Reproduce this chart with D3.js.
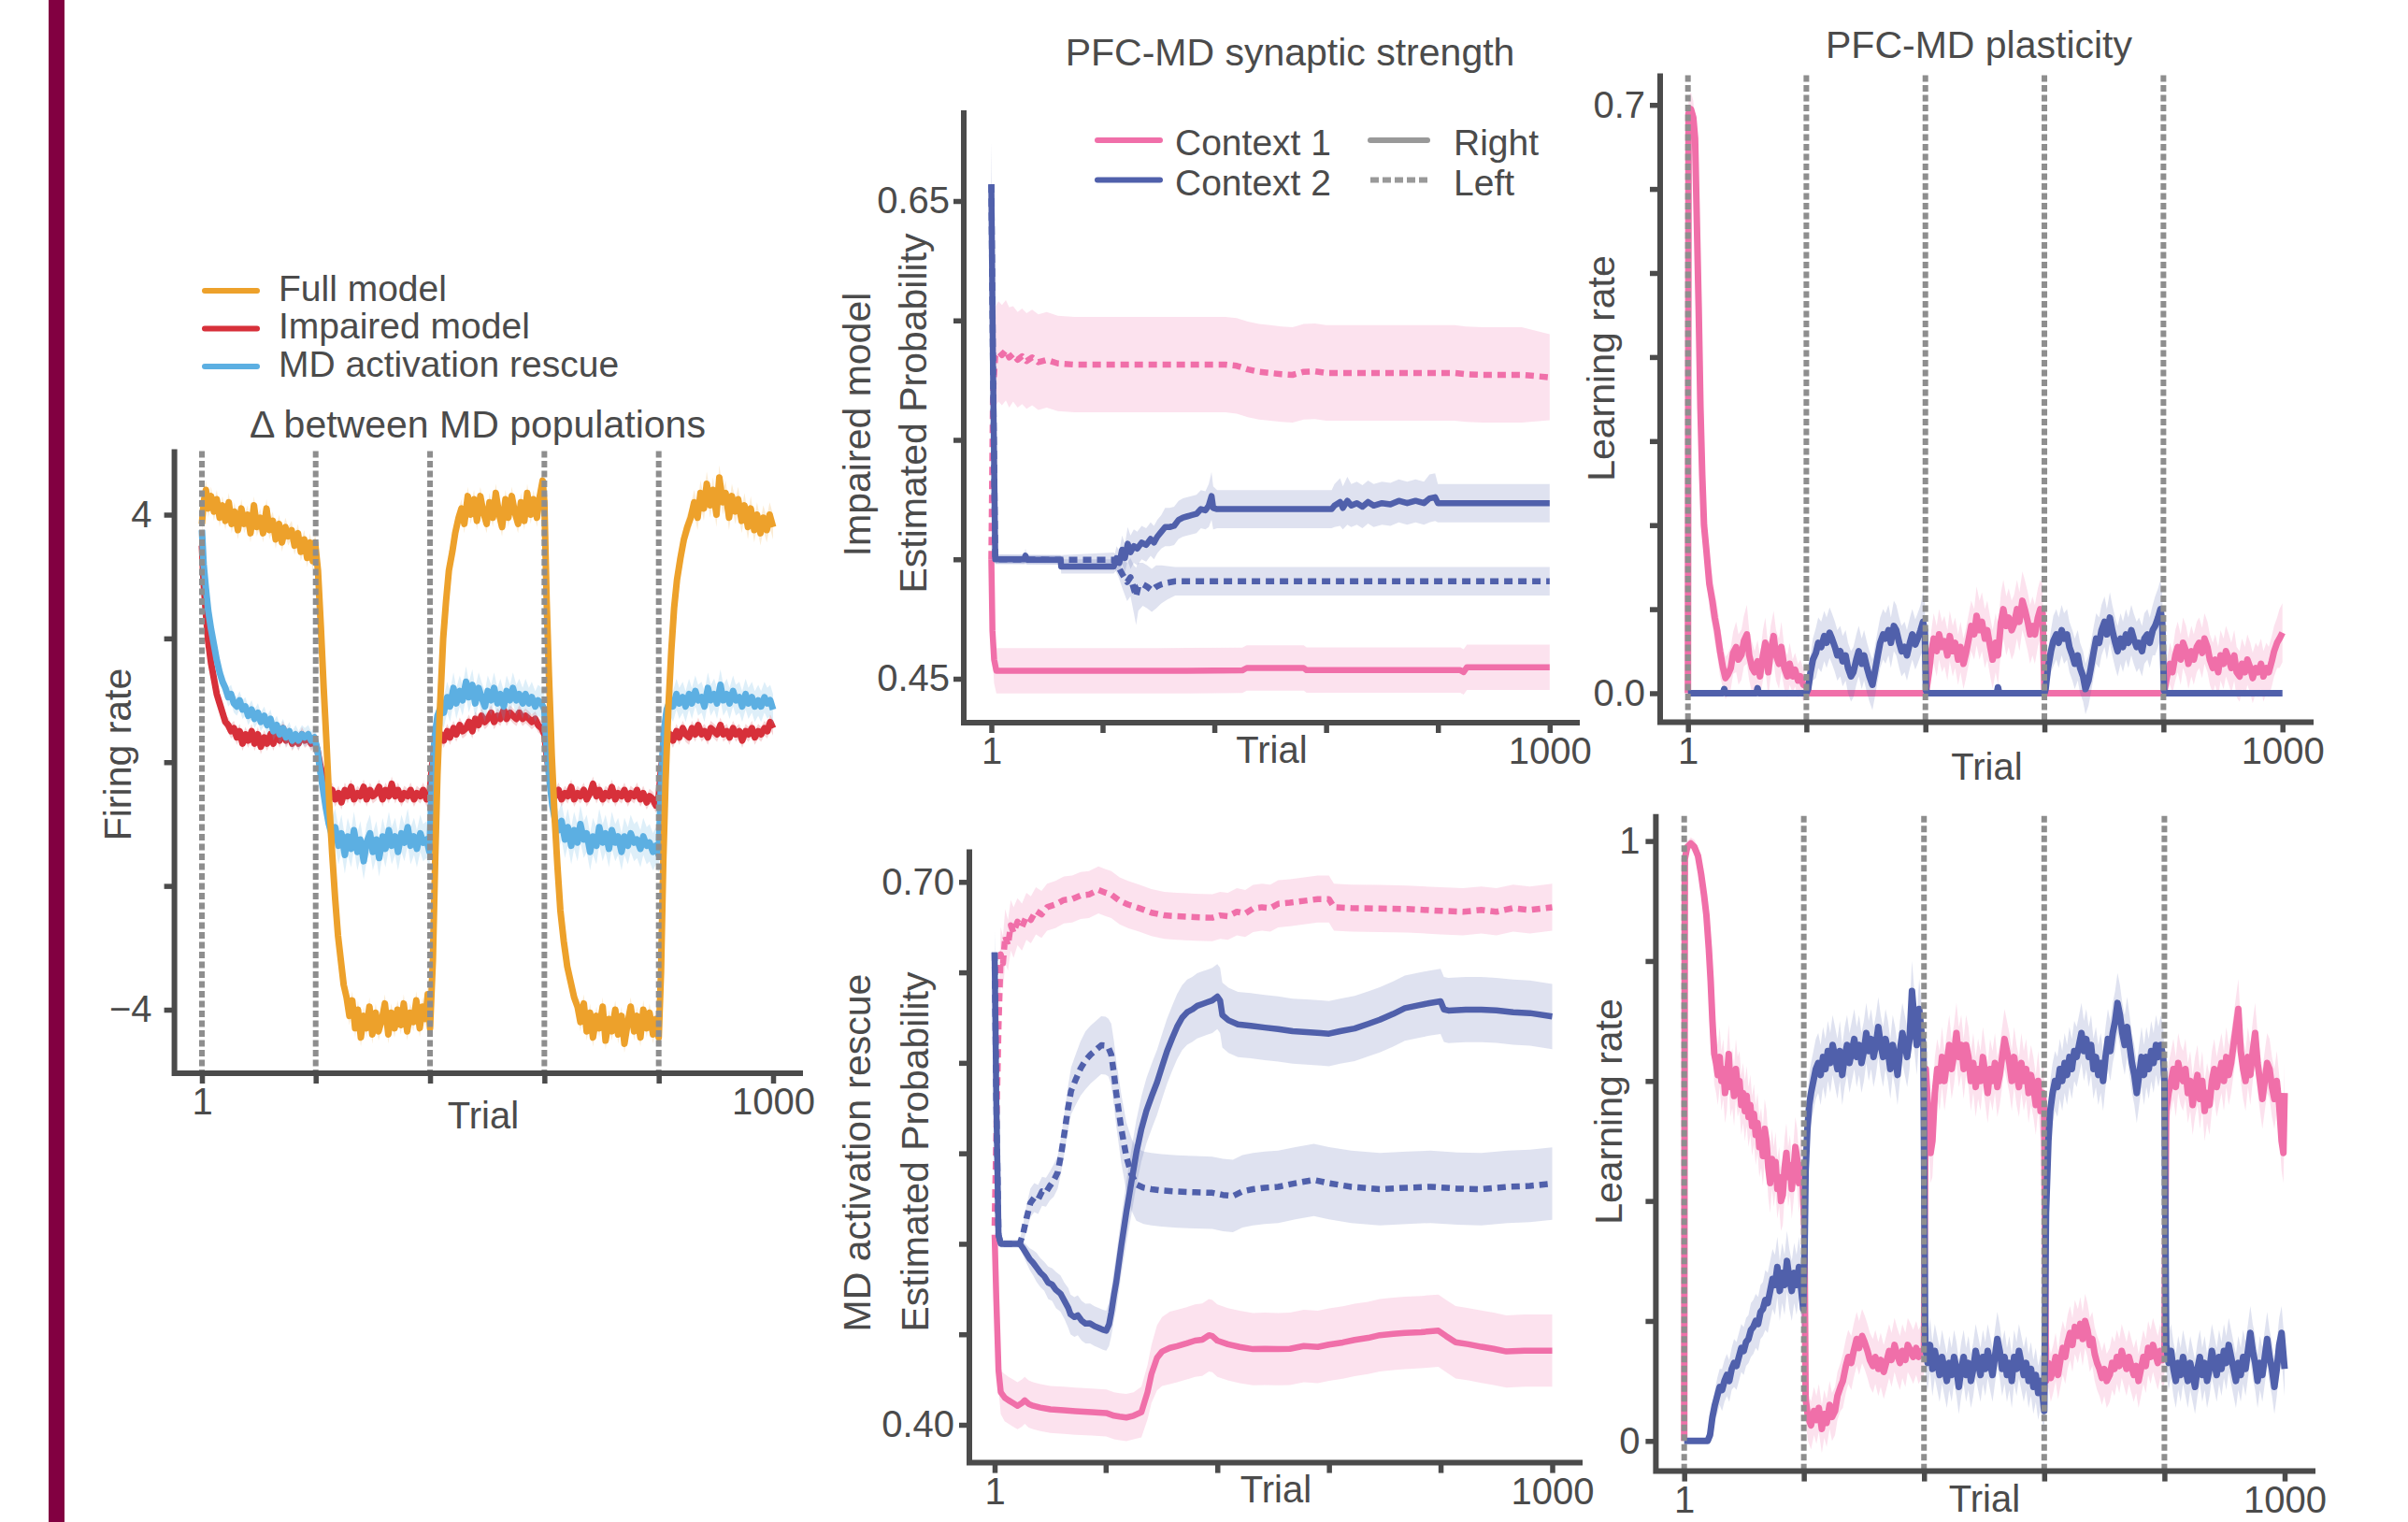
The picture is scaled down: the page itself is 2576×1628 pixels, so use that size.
<!DOCTYPE html>
<html>
<head>
<meta charset="utf-8">
<script src="https://cdn.jsdelivr.net/npm/d3@7"></script>
<style>
  html, body { margin: 0; padding: 0; background: #fff; }
  svg { display: block; font-family: "Liberation Sans", Arial, Helvetica, sans-serif; }
</style>
</head>
<body>
<script>
// ---- data: [trial, mean, half-width of shaded band] ----
const trialTicks = [1, 200, 400, 600, 800, 1000]
const switchTrials = [1, 200, 400, 600, 800]

// panel A: delta between MD populations (firing rate)
const fullModel = [[1,3.85,.15],[4,4.2,.15],[8,4.4,.15],[12,4.1,.15],[17,4.3,.15],[22,4.05,.15],[27,4.25,.15],[32,3.95,.15],[37,4.15,.15],[42,3.9,.15],[48,4.2,.15],[53,3.85,.15],[58,4.05,.15],[64,3.75,.15],[70,4.1,.15],[75,3.85,.15],[81,4.0,.15],[86,3.7,.15],[92,4.15,.15],[97,3.8,.15],[103,3.95,.15],[108,3.7,.15],[114,4.1,.15],[119,3.75,.15],[125,3.9,.15],[130,3.6,.15],[136,3.85,.15],[141,3.55,.15],[147,3.8,.15],[152,3.65,.15],[158,3.75,.15],[163,3.5,.15],[169,3.7,.15],[174,3.4,.15],[180,3.6,.15],[185,3.3,.15],[190,3.55,.15],[195,3.25,.15],[199,3.55,.15],
  [204,3.1,.2],[209,2.2,.2],[214,1.2,.2],[219,0.3,.2],[224,-0.7,.2],[229,-1.5,.2],[234,-2.2,.2],[239,-2.8,.2],[244,-3.2,.2],[249,-3.6,.2],[254,-3.8,.2],[259,-4.1,.15],[264,-3.85,.15],[269,-4.3,.15],[274,-4.0,.15],[279,-4.45,.15],[284,-4.1,.15],[289,-4.3,.15],[294,-3.95,.15],[299,-4.4,.15],[305,-4.05,.15],[310,-4.35,.15],[316,-4.15,.15],[321,-3.9,.15],[327,-4.4,.15],[332,-4.05,.15],[338,-4.3,.15],[343,-4.0,.15],[349,-4.25,.15],[354,-3.9,.15],[360,-4.35,.15],[365,-4.05,.15],[371,-4.2,.15],[376,-3.85,.15],[382,-4.3,.15],[387,-3.95,.15],[392,-4.15,.15],[396,-3.75,.15],[400,-4.3,.15],
  [405,-3.2,.2],[409,-1.6,.2],[413,-0.2,.2],[418,1.0,.2],[423,2.0,.2],[428,2.6,.2],[433,3.1,.2],[439,3.4,.2],[444,3.7,.2],[450,3.95,.15],[455,4.1,.15],[460,3.85,.15],[466,4.3,.15],[471,4.0,.15],[477,4.25,.15],[482,3.9,.15],[488,4.3,.15],[493,4.05,.15],[499,3.85,.15],[504,4.2,.15],[510,3.95,.15],[515,4.35,.15],[521,4.0,.15],[526,3.8,.15],[532,4.25,.15],[537,3.95,.15],[543,4.3,.15],[548,4.05,.15],[554,3.85,.15],[559,4.2,.15],[565,3.9,.15],[570,4.35,.15],[576,4.0,.15],[581,4.25,.15],[587,3.95,.15],[592,4.3,.15],[597,4.55,.15],[600,4.2,.15],
  [604,2.6,.2],[608,1.4,.2],[613,0.1,.2],[618,-0.9,.2],[623,-1.7,.2],[628,-2.4,.2],[634,-2.9,.2],[640,-3.3,.2],[646,-3.55,.2],[652,-3.8,.15],[658,-3.95,.15],[663,-4.2,.15],[669,-3.9,.15],[674,-4.35,.15],[680,-4.05,.15],[685,-4.45,.15],[691,-4.1,.15],[696,-4.3,.15],[702,-3.95,.15],[707,-4.5,.15],[713,-4.15,.15],[718,-4.35,.15],[724,-4.0,.15],[729,-4.4,.15],[735,-4.1,.15],[740,-4.55,.15],[746,-4.2,.15],[751,-3.95,.15],[757,-4.35,.15],[762,-4.1,.15],[768,-4.45,.15],[773,-4.0,.15],[779,-4.3,.15],[784,-4.05,.15],[790,-4.4,.15],[795,-4.15,.15],[800,-4.45,.15],
  [804,-3.4,.2],[808,-1.6,.2],[812,-0.3,.2],[817,0.9,.2],[822,1.8,.2],[827,2.5,.2],[832,2.95,.2],[838,3.3,.2],[844,3.6,.2],[850,3.8,.2],[856,3.95,.2],[862,4.2,.2],[868,3.95,.2],[873,4.35,.2],[879,4.1,.2],[884,4.5,.2],[890,4.15,.2],[895,4.4,.2],[901,4.0,.2],[906,4.6,.2],[912,4.2,.2],[917,4.35,.2],[923,3.95,.2],[928,4.3,.2],[934,4.05,.2],[939,4.25,.2],[945,3.9,.2],[950,4.15,.2],[956,3.8,.2],[961,4.1,.2],[967,3.75,.2],[972,4.0,.2],[978,3.7,.2],[983,3.95,.2],[989,3.75,.2],[994,4.0,.2],[1000,3.8,.2]]

const impairedModel = [[1,3.5,.1],[4,2.9,.1],[8,2.4,.1],[12,1.95,.1],[17,1.6,.1],[22,1.35,.1],[27,1.1,.1],[32,0.95,.1],[37,0.8,.1],[42,0.65,.1],[47,0.6,.12],[52,0.5,.12],[57,0.55,.12],[62,0.4,.12],[67,0.5,.12],[72,0.3,.12],[77,0.45,.12],[82,0.35,.12],[88,0.5,.12],[93,0.3,.12],[99,0.45,.12],[104,0.25,.12],[110,0.4,.12],[115,0.3,.12],[121,0.45,.12],[126,0.3,.12],[132,0.5,.12],[137,0.35,.12],[143,0.55,.12],[148,0.35,.12],[154,0.45,.12],[159,0.3,.12],[165,0.4,.12],[170,0.3,.12],[176,0.45,.12],[181,0.35,.12],[187,0.4,.12],[192,0.3,.12],[198,0.35,.12],
  [203,0.2,.12],[208,-0.05,.12],[213,-0.25,.12],[218,-0.4,.12],[223,-0.55,.12],[229,-0.45,.12],[234,-0.6,.12],[240,-0.5,.12],[245,-0.65,.12],[251,-0.45,.12],[256,-0.55,.12],[262,-0.4,.12],[267,-0.6,.12],[273,-0.5,.12],[278,-0.55,.12],[284,-0.4,.12],[289,-0.6,.12],[295,-0.45,.12],[300,-0.55,.12],[306,-0.5,.12],[311,-0.4,.12],[317,-0.6,.12],[322,-0.45,.12],[328,-0.55,.12],[333,-0.35,.12],[339,-0.55,.12],[344,-0.45,.12],[350,-0.6,.12],[355,-0.5,.12],[361,-0.55,.12],[366,-0.45,.12],[372,-0.6,.12],[377,-0.5,.12],[383,-0.55,.12],[388,-0.45,.12],[394,-0.6,.12],[399,-0.55,.12],
  [403,-0.1,.12],[408,0.25,.12],[413,0.35,.12],[419,0.45,.12],[424,0.35,.12],[430,0.5,.12],[435,0.4,.12],[441,0.55,.12],[446,0.45,.12],[452,0.6,.12],[457,0.5,.12],[463,0.55,.12],[468,0.65,.12],[474,0.5,.12],[479,0.7,.12],[485,0.6,.12],[490,0.75,.12],[496,0.65,.12],[501,0.7,.12],[507,0.8,.12],[512,0.65,.12],[518,0.75,.12],[523,0.7,.12],[529,0.85,.12],[534,0.7,.12],[540,0.8,.12],[545,0.75,.12],[551,0.7,.12],[556,0.8,.12],[562,0.7,.12],[567,0.75,.12],[573,0.7,.12],[578,0.65,.12],[584,0.7,.12],[589,0.6,.12],[595,0.55,.12],[600,0.45,.12],
  [604,0.1,.12],[609,-0.2,.12],[614,-0.4,.12],[619,-0.55,.12],[625,-0.45,.12],[630,-0.6,.12],[636,-0.5,.12],[641,-0.55,.12],[647,-0.4,.12],[652,-0.6,.12],[658,-0.5,.12],[663,-0.55,.12],[669,-0.45,.12],[674,-0.6,.12],[680,-0.5,.12],[685,-0.35,.12],[691,-0.55,.12],[696,-0.45,.12],[702,-0.6,.12],[707,-0.5,.12],[713,-0.55,.12],[718,-0.4,.12],[724,-0.6,.12],[729,-0.5,.12],[735,-0.55,.12],[740,-0.45,.12],[746,-0.6,.12],[751,-0.5,.12],[757,-0.55,.12],[762,-0.45,.12],[768,-0.6,.12],[773,-0.5,.12],[779,-0.65,.12],[784,-0.55,.12],[790,-0.6,.12],[795,-0.7,.12],[800,-0.55,.12],
  [804,-0.1,.12],[809,0.2,.12],[814,0.35,.12],[820,0.45,.12],[825,0.35,.12],[831,0.5,.12],[836,0.4,.12],[842,0.55,.12],[847,0.45,.12],[853,0.4,.12],[858,0.55,.12],[864,0.45,.12],[869,0.6,.12],[875,0.45,.12],[880,0.5,.12],[886,0.4,.12],[891,0.55,.12],[897,0.5,.12],[902,0.45,.12],[908,0.6,.12],[913,0.45,.12],[919,0.5,.12],[924,0.4,.12],[930,0.55,.12],[935,0.45,.12],[941,0.5,.12],[946,0.35,.12],[952,0.5,.12],[957,0.45,.12],[963,0.55,.12],[968,0.4,.12],[974,0.5,.12],[979,0.45,.12],[985,0.55,.12],[990,0.5,.12],[995,0.65,.12],[1000,0.55,.12]]

const mdRescue = [[1,3.75,.1],[4,3.2,.1],[8,2.8,.12],[12,2.45,.12],[17,2.15,.12],[22,1.9,.15],[27,1.65,.15],[32,1.45,.15],[37,1.3,.15],[42,1.2,.15],[47,1.05,.15],[52,1.1,.15],[57,0.95,.15],[62,0.9,.15],[67,1.0,.15],[72,0.85,.15],[77,0.9,.15],[82,0.75,.15],[88,0.85,.15],[93,0.7,.15],[99,0.8,.15],[104,0.65,.15],[110,0.75,.15],[115,0.6,.15],[121,0.7,.15],[126,0.5,.15],[132,0.6,.15],[137,0.45,.15],[143,0.55,.15],[148,0.4,.15],[154,0.5,.15],[159,0.35,.15],[165,0.45,.15],[170,0.35,.15],[176,0.45,.15],[181,0.4,.15],[187,0.45,.15],[192,0.35,.15],[198,0.4,.15],
  [203,0.2,.2],[208,-0.15,.2],[213,-0.45,.25],[218,-0.75,.25],[223,-1.0,.3],[229,-1.2,.3],[234,-1.05,.3],[240,-1.35,.3],[245,-1.15,.3],[251,-1.5,.3],[256,-1.2,.3],[262,-1.4,.3],[267,-1.1,.3],[273,-1.45,.3],[278,-1.25,.3],[284,-1.6,.3],[289,-1.3,.3],[295,-1.15,.3],[300,-1.45,.3],[306,-1.25,.3],[311,-1.55,.3],[317,-1.2,.3],[322,-1.4,.3],[328,-1.1,.3],[333,-1.35,.3],[339,-1.2,.3],[344,-1.45,.3],[350,-1.15,.3],[355,-1.3,.3],[361,-1.05,.3],[366,-1.35,.3],[372,-1.2,.3],[377,-1.4,.3],[383,-1.15,.3],[388,-1.3,.3],[394,-1.25,.3],[399,-1.45,.3],
  [403,-0.4,.25],[408,0.4,.25],[413,0.75,.25],[419,0.9,.25],[424,0.8,.25],[430,1.05,.25],[435,0.9,.25],[441,1.2,.25],[446,0.95,.25],[452,1.15,.25],[457,1.0,.25],[463,1.3,.25],[468,1.05,.25],[474,1.25,.25],[479,0.95,.25],[485,1.2,.25],[490,1.05,.25],[496,0.9,.25],[501,1.15,.25],[507,1.0,.25],[512,1.2,.25],[518,0.95,.25],[523,1.1,.25],[529,0.9,.25],[534,1.15,.25],[540,1.0,.25],[545,1.2,.25],[551,1.0,.25],[556,1.1,.25],[562,0.95,.25],[567,1.1,.25],[573,0.95,.25],[578,1.05,.25],[584,0.9,.25],[589,1.0,.25],[595,0.95,.25],[600,0.85,.25],
  [604,0.2,.2],[609,-0.3,.25],[614,-0.7,.25],[619,-0.95,.3],[625,-1.1,.3],[630,-0.95,.3],[636,-1.25,.3],[641,-1.05,.3],[647,-1.35,.3],[652,-1.1,.3],[658,-1.3,.3],[663,-1.0,.3],[669,-1.25,.3],[674,-1.15,.3],[680,-1.45,.3],[685,-1.2,.3],[691,-1.35,.3],[696,-1.05,.3],[702,-1.3,.3],[707,-1.15,.3],[713,-1.4,.3],[718,-1.1,.3],[724,-1.3,.3],[729,-1.2,.3],[735,-1.45,.3],[740,-1.2,.3],[746,-1.35,.3],[751,-1.15,.3],[757,-1.3,.3],[762,-1.25,.3],[768,-1.4,.3],[773,-1.2,.3],[779,-1.35,.3],[784,-1.3,.3],[790,-1.45,.3],[795,-1.35,.3],[800,-1.5,.3],
  [804,-0.3,.25],[809,0.5,.25],[814,0.85,.25],[820,1.0,.25],[825,0.9,.25],[831,1.1,.25],[836,0.95,.25],[842,1.05,.25],[847,0.9,.25],[853,1.1,.25],[858,0.95,.25],[864,1.15,.25],[869,1.0,.25],[875,1.05,.25],[880,0.9,.25],[886,1.2,.25],[891,1.0,.25],[897,1.1,.25],[902,0.95,.25],[908,1.25,.25],[913,1.0,.25],[919,1.1,.25],[924,0.95,.25],[930,1.15,.25],[935,1.0,.25],[941,1.05,.25],[946,0.9,.25],[952,1.1,.25],[957,0.95,.25],[963,1.05,.25],[968,0.9,.25],[974,1.0,.25],[979,0.9,.25],[985,1.05,.25],[990,0.95,.25],[995,1.0,.25],[1000,0.85,.25]]

// panel B1: impaired model, estimated probability
const impC1Right = [[1,0.50,.01],[3,0.47,.01],[6,0.458,.01],[10,0.4533,.0095],[300,0.4533,.0095],[450,0.4535,.0095],[458,0.4545,.0095],[560,0.4545,.0095],[565,0.4536,.0095],[840,0.4536,.0095],[846,0.4528,.0095],[852,0.4548,.0095],[1000,0.4548,.0095]]
const impC1Left = [[1,0.50,.01],[4,0.57,.02],[8,0.585,.021],[14,0.587,.021],[20,0.5855,.021],[27,0.5875,.021],[33,0.5845,.021],[40,0.586,.02],[48,0.5835,.02],[56,0.585,.02],[64,0.583,.02],[74,0.5845,.02],[85,0.5825,.02],[100,0.5835,.02],[120,0.582,.02],[150,0.5815,.02],[420,0.5815,.02],[440,0.581,.02],[460,0.5795,.02],[480,0.5785,.02],[500,0.578,.02],[520,0.5775,.02],[540,0.5772,.02],[560,0.5785,.02],[580,0.5787,.02],[600,0.578,.02],[830,0.578,.02],[850,0.5775,.02],[880,0.5772,.02],[950,0.5772,.02],[1000,0.5762,.018]]
const impC2Right = [[1,0.657,.018],[4,0.58,.005],[8,0.50,.002],[60,0.50,.002],[62,0.5015,.003],[65,0.4998,.002],[125,0.4998,.002],[126,0.497,.003],[220,0.497,.003],[225,0.5005,.005],[230,0.4985,.005],[235,0.504,.006],[240,0.5005,.006],[245,0.5065,.007],[250,0.503,.007],[256,0.5055,.007],[262,0.5045,.007],[270,0.507,.007],[278,0.506,.007],[286,0.5085,.007],[292,0.507,.007],[298,0.5095,.007],[305,0.5115,.007],[312,0.5135,.008],[320,0.5135,.008],[328,0.514,.008],[336,0.5165,.008],[344,0.5175,.008],[352,0.518,.008],[360,0.5185,.008],[368,0.519,.008],[376,0.521,.008],[384,0.5205,.008],[390,0.5225,.009],[395,0.5265,.01],[398,0.5215,.009],[405,0.521,.008],[610,0.521,.008],[615,0.5225,.009],[625,0.524,.01],[630,0.5215,.009],[638,0.5245,.01],[645,0.5225,.009],[655,0.5235,.009],[665,0.522,.009],[675,0.524,.009],[685,0.5225,.009],[700,0.5235,.009],[715,0.523,.009],[730,0.5245,.009],[745,0.5235,.009],[760,0.5245,.009],[775,0.5235,.009],[785,0.5255,.01],[795,0.526,.01],[800,0.5235,.008],[1000,0.5235,.008]]
const impC2Left = [[1,0.657,.018],[4,0.58,.005],[8,0.50,.002],[125,0.4998,.002],[220,0.4998,.003],[228,0.497,.004],[236,0.4935,.006],[244,0.4905,.008],[250,0.4925,.008],[256,0.4875,.01],[260,0.4845,.012],[264,0.4885,.01],[272,0.4895,.009],[280,0.4885,.009],[288,0.487,.009],[296,0.4885,.009],[305,0.4895,.008],[316,0.4902,.007],[330,0.4908,.006],[1000,0.4908,.006]]

// panel B2: MD activation rescue, estimated probability
const resC1Right = [[1,0.505,.01],[4,0.47,.01],[8,0.43,.01],[12,0.418,.012],[19,0.415,.013],[26,0.4135,.013],[34,0.412,.013],[42,0.4105,.013],[50,0.412,.013],[55,0.4135,.013],[62,0.4115,.013],[70,0.4105,.013],[83,0.4095,.013],[101,0.4085,.013],[125,0.408,.013],[146,0.4075,.013],[175,0.407,.013],[201,0.4065,.013],[215,0.405,.013],[225,0.4045,.013],[237,0.404,.013],[250,0.405,.013],[264,0.407,.014],[275,0.418,.015],[282,0.428,.016],[292,0.437,.018],[301,0.4405,.019],[315,0.4425,.02],[328,0.4435,.02],[345,0.445,.02],[360,0.4465,.02],[373,0.447,.02],[385,0.4495,.02],[391,0.449,.02],[400,0.4465,.02],[419,0.4445,.02],[440,0.443,.02],[464,0.4418,.02],[485,0.442,.02],[509,0.4418,.02],[530,0.442,.02],[555,0.4435,.02],[580,0.443,.02],[600,0.4443,.02],[625,0.4455,.02],[646,0.4469,.02],[670,0.448,.02],[691,0.4495,.02],[715,0.4502,.02],[736,0.4508,.02],[765,0.4512,.02],[796,0.452,.02],[810,0.449,.02],[827,0.4456,.02],[850,0.4445,.02],[873,0.4431,.02],[895,0.442,.02],[918,0.4405,.02],[950,0.441,.02],[1000,0.441,.02]]
const resC1Left = [[1,0.51,.01],[4,0.56,.012],[8,0.62,.015],[12,0.66,.015],[16,0.655,.015],[20,0.67,.015],[25,0.665,.014],[30,0.676,.014],[35,0.672,.014],[42,0.678,.013],[50,0.675,.013],[58,0.681,.013],[66,0.679,.013],[75,0.684,.013],[85,0.682,.013],[95,0.686,.013],[110,0.6875,.013],[125,0.69,.013],[140,0.6905,.013],[155,0.6925,.013],[170,0.693,.013],[187,0.6956,.013],[200,0.694,.013],[210,0.693,.013],[225,0.6895,.013],[240,0.6875,.013],[260,0.6855,.013],[282,0.683,.013],[305,0.6815,.013],[328,0.681,.013],[360,0.6805,.013],[391,0.6802,.013],[405,0.6815,.013],[419,0.681,.013],[435,0.6835,.013],[450,0.6825,.013],[464,0.6853,.013],[480,0.686,.013],[495,0.6855,.013],[509,0.6879,.013],[530,0.6885,.013],[555,0.6895,.013],[580,0.6905,.013],[600,0.6905,.013],[609,0.686,.013],[640,0.6855,.013],[691,0.6853,.013],[740,0.685,.013],[800,0.684,.013],[840,0.6835,.013],[873,0.6845,.013],[900,0.6835,.013],[930,0.6855,.013],[960,0.6845,.013],[1000,0.686,.013]]
const resC2Right = [[1,0.661,.012],[4,0.58,.005],[8,0.505,.003],[12,0.5,.002],[46,0.5,.002],[52,0.4975,.004],[58,0.4945,.005],[64,0.4915,.006],[70,0.4895,.007],[76,0.487,.008],[83,0.4841,.008],[90,0.482,.008],[97,0.4785,.009],[104,0.4775,.009],[111,0.4745,.01],[119,0.4725,.01],[126,0.4685,.01],[133,0.4645,.011],[137,0.461,.011],[144,0.4595,.011],[150,0.4605,.011],[157,0.4575,.011],[164,0.4559,.011],[172,0.456,.011],[180,0.4545,.011],[188,0.4535,.011],[195,0.4525,.011],[201,0.452,.011],[206,0.4555,.012],[210,0.462,.013],[215,0.472,.014],[219,0.479,.015],[228,0.499,.016],[237,0.5174,.017],[246,0.534,.018],[255,0.5505,.018],[264,0.5635,.018],[273,0.5735,.018],[283,0.582,.018],[292,0.5892,.018],[301,0.598,.018],[310,0.6065,.018],[319,0.6135,.018],[328,0.62,.018],[337,0.625,.018],[346,0.628,.018],[355,0.6295,.018],[364,0.6315,.018],[373,0.6325,.018],[382,0.6335,.018],[391,0.6345,.018],[400,0.6366,.018],[405,0.6345,.018],[409,0.6264,.018],[420,0.6235,.018],[437,0.6212,.018],[460,0.6205,.018],[485,0.6195,.018],[509,0.6187,.018],[535,0.6175,.018],[560,0.617,.018],[585,0.6165,.018],[600,0.6161,.018],[620,0.6175,.018],[646,0.619,.018],[670,0.6215,.018],[691,0.6238,.018],[715,0.627,.018],[736,0.6302,.018],[760,0.6318,.018],[780,0.633,.018],[800,0.634,.018],[806,0.6295,.018],[814,0.6289,.018],[845,0.6294,.018],[873,0.6294,.018],[900,0.629,.018],[930,0.628,.018],[960,0.6275,.018],[1000,0.6256,.018]]
const resC2Left = [[1,0.661,.012],[4,0.58,.005],[8,0.505,.003],[12,0.5,.002],[46,0.5,.002],[52,0.5055,.005],[58,0.514,.007],[65,0.5225,.008],[72,0.5255,.008],[79,0.5245,.008],[86,0.529,.008],[93,0.5285,.008],[100,0.532,.008],[107,0.535,.009],[114,0.5395,.009],[120,0.549,.01],[126,0.561,.011],[132,0.574,.012],[138,0.5845,.013],[146,0.5905,.014],[155,0.5969,.015],[164,0.6015,.016],[173,0.6046,.016],[182,0.607,.016],[192,0.6097,.016],[200,0.6095,.016],[205,0.6084,.016],[210,0.6046,.017],[215,0.5935,.018],[219,0.583,.018],[228,0.5635,.019],[237,0.5482,.019],[246,0.5385,.02],[255,0.5328,.02],[268,0.531,.02],[282,0.5302,.02],[300,0.5295,.02],[328,0.5289,.02],[360,0.5285,.02],[391,0.5282,.02],[410,0.527,.02],[428,0.5264,.02],[445,0.529,.02],[464,0.5302,.02],[485,0.531,.02],[509,0.5315,.02],[540,0.5335,.02],[573,0.5353,.02],[600,0.5335,.02],[640,0.5315,.02],[691,0.5302,.02],[740,0.531,.02],[782,0.5315,.02],[830,0.5305,.02],[873,0.5302,.02],[920,0.5315,.02],[960,0.532,.02],[1000,0.5333,.02]]

// panel C1: impaired model, learning rate
const impLrC1 = [[1,0,0],[2,0.69,.02],[6,0.695,.02],[10,0.685,.02],[13,0.66,.02],[16,0.56,.025],[19,0.46,.03],[22,0.34,.03],[25,0.26,.03],[28,0.2,.03],[32,0.17,.03],[37,0.13,.03],[42,0.11,.03],[46,0.09,.03],[50,0.075,.03],[55,0.05,.03],[60,0.03,.025],[64,0.018,.025],[68,0.022,.025],[73,0.03,.025],[77,0.048,.025],[82,0.055,.03],[86,0.04,.03],[91,0.046,.03],[95,0.062,.03],[100,0.07,.035],[104,0.045,.03],[109,0.03,.03],[113,0.025,.025],[118,0.038,.025],[122,0.02,.025],[127,0.045,.03],[131,0.06,.03],[136,0.025,.03],[140,0.05,.03],[145,0.068,.03],[149,0.045,.03],[154,0.035,.03],[158,0.055,.03],[163,0.03,.025],[168,0.02,.025],[172,0.035,.025],[177,0.02,.02],[181,0.028,.02],[186,0.015,.02],[190,0.02,.02],[195,0.01,.02],[200,0.008,.01],[205,0,0],[400,0,0],
  [402,0.005,.01],[406,0.025,.02],[410,0.05,.025],[414,0.065,.03],[419,0.05,.03],[423,0.07,.03],[428,0.055,.03],[432,0.062,.03],[437,0.045,.03],[441,0.068,.03],[446,0.05,.03],[450,0.06,.03],[455,0.04,.03],[459,0.055,.03],[464,0.035,.03],[468,0.047,.03],[473,0.065,.03],[477,0.08,.03],[482,0.07,.03],[486,0.092,.035],[491,0.075,.035],[495,0.085,.035],[500,0.065,.035],[504,0.075,.035],[509,0.055,.035],[513,0.04,.035],[518,0.06,.035],[522,0.045,.035],[527,0.085,.035],[531,0.1,.035],[536,0.08,.035],[540,0.09,.035],[545,0.075,.035],[549,0.082,.035],[554,0.1,.035],[558,0.085,.035],[563,0.11,.035],[567,0.1,.035],[572,0.085,.035],[576,0.07,.035],[580,0.08,.035],[584,0.07,.035],[589,0.09,.035],[593,0.1,.035],[597,0.095,.035],[600,0.003,.01],[605,0,0],[800,0,0],
  [802,0.005,.01],[806,0.02,.02],[811,0.035,.025],[815,0.025,.025],[820,0.045,.03],[824,0.055,.03],[829,0.04,.03],[833,0.06,.03],[838,0.05,.03],[842,0.035,.03],[847,0.05,.03],[851,0.04,.03],[856,0.055,.03],[860,0.06,.03],[865,0.048,.03],[869,0.065,.03],[874,0.055,.03],[878,0.04,.03],[883,0.03,.03],[887,0.04,.03],[892,0.025,.03],[896,0.045,.03],[901,0.035,.03],[905,0.05,.03],[910,0.04,.03],[914,0.03,.03],[919,0.045,.03],[923,0.025,.03],[928,0.02,.03],[932,0.035,.03],[937,0.025,.03],[941,0.04,.03],[946,0.03,.03],[950,0.018,.03],[955,0.03,.03],[959,0.025,.03],[964,0.035,.03],[968,0.02,.03],[973,0.03,.03],[977,0.025,.03],[982,0.038,.03],[986,0.05,.03],[991,0.06,.03],[995,0.065,.035],[1000,0.072,.035]]
const impLrC2 = [[1,0,0],[60,0,0],[62,0.005,.003],[64,0,0],[116,0,0],[118,0.006,.003],[120,0,0],[200,0,0],[203,0.005,.005],[207,0.025,.02],[211,0.04,.025],[216,0.048,.03],[220,0.06,.03],[225,0.055,.03],[230,0.068,.03],[234,0.06,.03],[239,0.072,.03],[243,0.065,.03],[248,0.055,.03],[252,0.045,.03],[257,0.05,.03],[261,0.038,.03],[266,0.045,.03],[270,0.03,.03],[275,0.02,.03],[279,0.025,.03],[284,0.04,.03],[288,0.05,.03],[293,0.035,.03],[297,0.045,.03],[302,0.03,.03],[306,0.02,.03],[311,0.01,.03],[315,0.025,.03],[320,0.045,.03],[324,0.06,.03],[329,0.07,.03],[333,0.065,.03],[338,0.075,.03],[342,0.06,.03],[347,0.08,.03],[351,0.075,.03],[356,0.06,.03],[360,0.05,.03],[365,0.055,.03],[369,0.045,.03],[374,0.06,.03],[378,0.07,.03],[383,0.058,.03],[387,0.065,.03],[392,0.075,.03],[396,0.085,.035],[399,0.075,.035],[401,0.003,.005],[405,0,0],[520,0,0],[522,0.007,.003],[524,0,0],[600,0,0],
  [602,0.005,.005],[606,0.03,.02],[611,0.05,.025],[615,0.062,.03],[620,0.07,.03],[624,0.06,.03],[629,0.075,.03],[633,0.065,.03],[638,0.07,.03],[642,0.055,.03],[647,0.045,.03],[651,0.035,.03],[656,0.045,.03],[660,0.03,.03],[665,0.02,.03],[669,0.005,.03],[674,0.015,.03],[678,0.03,.03],[683,0.05,.03],[687,0.065,.03],[692,0.06,.03],[696,0.075,.03],[701,0.085,.03],[705,0.07,.03],[710,0.09,.03],[714,0.075,.03],[719,0.06,.03],[723,0.05,.03],[728,0.065,.03],[732,0.055,.03],[737,0.07,.03],[741,0.06,.03],[746,0.075,.03],[750,0.065,.03],[755,0.055,.03],[759,0.06,.03],[764,0.05,.03],[768,0.065,.03],[773,0.07,.03],[777,0.06,.03],[782,0.075,.03],[786,0.08,.035],[791,0.09,.035],[795,0.1,.035],[798,0.085,.035],[801,0.003,.005],[805,0,0],[1000,0,0]]

// panel C2: MD activation rescue, learning rate
const resLrC1 = [[1,0,0],[2,0.97,.01],[6,0.99,.01],[12,0.996,.01],[18,0.99,.012],[24,0.975,.015],[29,0.946,.02],[34,0.91,.025],[38,0.876,.03],[42,0.82,.035],[45,0.768,.04],[48,0.7,.045],[51,0.645,.05],[54,0.63,.05],[57,0.61,.05],[60,0.64,.05],[63,0.6,.05],[66,0.62,.05],[69,0.58,.05],[72,0.6,.05],[75,0.645,.05],[78,0.59,.05],[81,0.605,.05],[84,0.575,.05],[87,0.62,.05],[90,0.59,.05],[93,0.6,.05],[96,0.56,.05],[99,0.58,.05],[102,0.55,.05],[105,0.575,.05],[108,0.54,.05],[111,0.56,.05],[114,0.525,.05],[117,0.545,.05],[120,0.51,.05],[123,0.53,.05],[126,0.49,.05],[129,0.505,.05],[132,0.475,.05],[135,0.52,.05],[138,0.5,.05],[141,0.455,.05],[144,0.43,.05],[147,0.47,.05],[150,0.44,.05],[153,0.465,.05],[156,0.42,.05],[159,0.44,.05],[162,0.4,.05],[165,0.41,.05],[168,0.455,.05],[171,0.48,.05],[174,0.44,.05],[177,0.46,.05],[180,0.42,.05],[183,0.45,.05],[186,0.49,.05],[189,0.47,.05],[192,0.43,.05],[195,0.46,.05],[198,0.44,.05],[201,0.35,.05],[203,0.07,.04],[207,0.04,.04],[212,0.026,.04],[217,0.05,.04],[221,0.035,.04],[225,0.055,.04],[230,0.02,.04],[234,0.045,.04],[238,0.03,.04],[243,0.06,.04],[247,0.04,.04],[252,0.05,.04],[256,0.075,.04],[261,0.09,.04],[265,0.1,.045],[270,0.125,.045],[274,0.14,.045],[279,0.13,.045],[283,0.15,.045],[288,0.17,.045],[292,0.155,.045],[297,0.175,.045],[301,0.165,.045],[306,0.15,.045],[310,0.135,.045],[315,0.125,.045],[319,0.14,.045],[324,0.12,.045],[328,0.135,.045],[333,0.115,.045],[337,0.13,.045],[342,0.15,.045],[346,0.135,.045],[351,0.16,.045],[355,0.145,.045],[360,0.13,.045],[364,0.15,.045],[369,0.135,.045],[373,0.16,.045],[378,0.15,.045],[382,0.14,.045],[387,0.155,.045],[391,0.14,.045],[396,0.15,.045],[400,0.15,.045],
  [403,0.62,.05],[407,0.55,.05],[411,0.48,.05],[414,0.5,.06],[418,0.58,.06],[422,0.62,.05],[426,0.6,.05],[430,0.64,.05],[434,0.6,.05],[438,0.63,.05],[442,0.66,.05],[446,0.62,.05],[450,0.645,.05],[454,0.68,.05],[458,0.64,.05],[462,0.66,.05],[466,0.62,.05],[470,0.66,.05],[474,0.64,.05],[478,0.6,.05],[482,0.63,.05],[486,0.59,.05],[490,0.62,.05],[494,0.6,.05],[498,0.64,.05],[502,0.61,.05],[506,0.58,.05],[510,0.62,.05],[514,0.6,.05],[518,0.63,.05],[522,0.59,.05],[526,0.61,.05],[530,0.64,.05],[534,0.67,.05],[538,0.65,.05],[542,0.63,.05],[546,0.6,.05],[550,0.64,.05],[554,0.61,.05],[558,0.59,.05],[562,0.63,.05],[566,0.6,.05],[570,0.62,.05],[574,0.58,.05],[578,0.61,.05],[582,0.59,.05],[586,0.56,.05],[590,0.6,.05],[594,0.55,.05],[598,0.58,.05],[600,0.55,.05],
  [603,0.1,.04],[607,0.13,.04],[611,0.105,.04],[615,0.12,.04],[619,0.14,.04],[623,0.11,.04],[627,0.135,.045],[631,0.155,.045],[635,0.14,.045],[639,0.165,.045],[643,0.18,.045],[647,0.16,.045],[651,0.19,.045],[656,0.175,.045],[660,0.195,.045],[664,0.17,.045],[668,0.2,.045],[672,0.185,.045],[676,0.16,.045],[680,0.17,.045],[684,0.145,.045],[688,0.13,.045],[692,0.12,.045],[696,0.105,.045],[700,0.12,.045],[704,0.1,.045],[709,0.11,.045],[713,0.13,.045],[717,0.12,.045],[721,0.14,.045],[725,0.125,.045],[729,0.15,.045],[733,0.135,.045],[737,0.12,.045],[741,0.14,.045],[745,0.125,.045],[749,0.11,.045],[753,0.125,.045],[757,0.1,.045],[761,0.12,.045],[765,0.14,.045],[769,0.125,.045],[773,0.155,.045],[777,0.14,.045],[781,0.16,.045],[785,0.145,.045],[789,0.13,.045],[793,0.15,.045],[797,0.135,.045],[800,0.14,.045],
  [803,0.55,.05],[807,0.58,.05],[811,0.6,.05],[815,0.62,.05],[819,0.59,.05],[823,0.63,.05],[827,0.61,.05],[831,0.6,.05],[835,0.62,.05],[839,0.58,.05],[843,0.6,.05],[847,0.56,.05],[851,0.59,.05],[855,0.61,.05],[859,0.57,.05],[863,0.6,.05],[867,0.55,.05],[871,0.58,.05],[875,0.56,.05],[879,0.6,.05],[883,0.62,.05],[887,0.59,.05],[891,0.61,.05],[895,0.63,.05],[899,0.6,.05],[903,0.64,.05],[907,0.61,.05],[911,0.63,.05],[915,0.66,.05],[919,0.69,.05],[923,0.72,.05],[927,0.65,.05],[931,0.62,.05],[935,0.6,.05],[939,0.64,.05],[943,0.61,.05],[947,0.65,.05],[951,0.68,.05],[955,0.63,.05],[959,0.6,.05],[963,0.57,.05],[967,0.6,.05],[971,0.63,.05],[975,0.62,.05],[979,0.59,.05],[983,0.57,.05],[987,0.6,.05],[991,0.56,.05],[995,0.5,.05],[998,0.48,.05],[1000,0.58,.05]]
const resLrC2 = [[1,0,0],[40,0,0],[44,0.01,.01],[48,0.04,.02],[52,0.06,.025],[56,0.075,.03],[60,0.09,.03],[64,0.085,.035],[68,0.1,.035],[72,0.11,.035],[76,0.1,.035],[80,0.12,.035],[84,0.13,.04],[88,0.125,.04],[92,0.14,.04],[96,0.155,.04],[100,0.15,.04],[104,0.165,.04],[108,0.17,.04],[112,0.185,.045],[116,0.19,.045],[120,0.2,.045],[124,0.195,.045],[128,0.215,.045],[132,0.22,.045],[136,0.235,.05],[140,0.23,.05],[144,0.25,.05],[148,0.27,.05],[152,0.26,.05],[156,0.29,.05],[160,0.25,.05],[164,0.28,.05],[168,0.26,.05],[172,0.3,.05],[176,0.27,.05],[180,0.25,.05],[184,0.28,.05],[188,0.26,.05],[192,0.29,.05],[196,0.25,.05],[199,0.22,.05],[201,0.3,.05],[203,0.45,.05],[206,0.52,.05],[209,0.56,.05],[212,0.58,.05],[216,0.6,.05],[220,0.62,.05],[224,0.63,.05],[228,0.61,.05],[232,0.64,.05],[236,0.62,.05],[240,0.65,.05],[244,0.63,.05],[248,0.66,.05],[252,0.64,.05],[256,0.62,.05],[260,0.65,.05],[264,0.61,.05],[268,0.64,.05],[272,0.66,.05],[276,0.63,.05],[280,0.65,.05],[284,0.67,.05],[288,0.64,.05],[292,0.66,.05],[296,0.63,.05],[300,0.65,.05],[304,0.68,.05],[308,0.65,.05],[312,0.67,.05],[316,0.64,.05],[320,0.66,.05],[324,0.69,.05],[328,0.66,.05],[332,0.64,.05],[336,0.67,.05],[340,0.65,.05],[344,0.62,.05],[348,0.66,.05],[352,0.64,.05],[356,0.61,.05],[360,0.65,.05],[364,0.68,.05],[368,0.66,.05],[372,0.64,.05],[376,0.67,.05],[380,0.75,.05],[384,0.7,.05],[388,0.66,.05],[392,0.72,.05],[396,0.68,.05],[399,0.66,.05],
  [402,0.16,.045],[406,0.13,.045],[410,0.16,.045],[414,0.12,.045],[418,0.15,.045],[422,0.13,.045],[426,0.11,.045],[430,0.14,.045],[434,0.12,.045],[438,0.1,.045],[442,0.13,.045],[446,0.11,.045],[450,0.14,.045],[454,0.12,.045],[458,0.09,.045],[462,0.12,.045],[466,0.14,.045],[470,0.11,.045],[474,0.13,.045],[478,0.1,.045],[482,0.12,.045],[486,0.15,.045],[490,0.13,.045],[494,0.11,.045],[498,0.14,.045],[502,0.12,.045],[506,0.15,.045],[510,0.13,.045],[514,0.11,.045],[518,0.14,.045],[522,0.17,.045],[526,0.15,.045],[530,0.12,.045],[534,0.14,.045],[538,0.11,.045],[542,0.13,.045],[546,0.1,.045],[550,0.14,.045],[554,0.12,.045],[558,0.15,.045],[562,0.13,.045],[566,0.11,.045],[570,0.13,.045],[574,0.1,.045],[578,0.12,.045],[582,0.09,.045],[586,0.11,.045],[590,0.08,.045],[594,0.1,.045],[598,0.07,.045],[600,0.05,.045],
  [603,0.38,.05],[607,0.5,.05],[610,0.55,.05],[614,0.58,.05],[618,0.6,.05],[622,0.59,.05],[626,0.62,.05],[630,0.6,.05],[634,0.63,.05],[638,0.61,.05],[642,0.64,.05],[646,0.62,.05],[650,0.65,.05],[654,0.64,.05],[658,0.66,.05],[662,0.68,.05],[666,0.65,.05],[670,0.67,.05],[674,0.64,.05],[678,0.66,.05],[682,0.62,.05],[686,0.64,.05],[690,0.61,.05],[694,0.63,.05],[698,0.6,.05],[702,0.64,.05],[706,0.67,.05],[710,0.65,.05],[714,0.68,.05],[718,0.7,.05],[722,0.73,.05],[726,0.71,.05],[730,0.68,.05],[734,0.66,.05],[738,0.69,.05],[742,0.66,.05],[746,0.63,.05],[750,0.61,.05],[754,0.58,.05],[758,0.61,.05],[762,0.64,.05],[766,0.61,.05],[770,0.64,.05],[774,0.62,.05],[778,0.65,.05],[782,0.63,.05],[786,0.66,.05],[790,0.64,.05],[794,0.66,.05],[798,0.64,.05],[800,0.6,.05],
  [803,0.16,.045],[807,0.13,.045],[811,0.15,.045],[815,0.12,.045],[819,0.1,.045],[823,0.13,.045],[827,0.11,.045],[831,0.14,.045],[835,0.12,.045],[839,0.1,.045],[843,0.13,.045],[847,0.11,.045],[851,0.09,.045],[855,0.12,.045],[859,0.14,.045],[863,0.11,.045],[867,0.13,.045],[871,0.1,.045],[875,0.12,.045],[879,0.15,.045],[883,0.13,.045],[887,0.11,.045],[891,0.14,.045],[895,0.12,.045],[899,0.15,.045],[903,0.13,.045],[907,0.16,.045],[911,0.14,.045],[915,0.12,.045],[919,0.1,.045],[923,0.13,.045],[927,0.11,.045],[931,0.14,.045],[935,0.12,.045],[939,0.15,.045],[943,0.18,.045],[947,0.15,.045],[951,0.13,.045],[955,0.1,.045],[959,0.13,.045],[963,0.11,.045],[967,0.14,.045],[971,0.17,.045],[975,0.14,.045],[979,0.12,.045],[983,0.09,.045],[987,0.12,.045],[991,0.16,.045],[995,0.18,.045],[1000,0.12,.045]]

// tick values and labelled ticks
const firingTicks = [-4, -2, 0, 2, 4], firingLabels = [-4, 4]
const impProbTicks = [0.45, 0.5, 0.55, 0.6, 0.65], impProbLabels = [0.45, 0.65]
const resProbTicks = [0.4, 0.45, 0.5, 0.55, 0.6, 0.65, 0.7], resProbLabels = [0.4, 0.7]
const impLrTicks = [0, 0.1, 0.2, 0.3, 0.4, 0.5, 0.6, 0.7], impLrLabels = [0, 0.7]
const resLrTicks = [0, 0.2, 0.4, 0.6, 0.8, 1], resLrLabels = [0, 1]
const trialLabels = [1, 1000]

// ---- style ----
const INK = "#4b4b4b"
const GRID = "#8e8e8e"
const ORANGE = "#eda12b", RED = "#d7303a", SKY = "#5cafe2"
const PINK = "#f06fa9", BLUE = "#5060ab"
const FS = 40

const W = 2576, H = 1628
const svg = d3.select("body").append("svg")
  .attr("width", W).attr("height", H)
  .attr("viewBox", [0, 0, W, H])

// left accent bar
svg.append("rect").attr("x", 52).attr("y", 0).attr("width", 17).attr("height", H).attr("fill", "#820041")

function panel(o) {
  const x = d3.scaleLinear().domain([1, 1000]).range(o.xr)
  const y = d3.scaleLinear().domain(o.yd).range(o.yr)
  const g = svg.append("g")

  const area = d3.area().x(d => x(d[0])).y0(d => y(d[1] - d[2])).y1(d => y(d[1] + d[2]))
  const line = d3.line().x(d => x(d[0])).y(d => y(d[1]))

  o.series.forEach(s => {
    g.append("path").attr("d", area(s.data))
      .attr("fill", s.color).attr("fill-opacity", s.op || 0.2)
    g.append("path").attr("d", line(s.data))
      .attr("fill", "none").attr("stroke", s.color).attr("stroke-width", o.lw)
      .attr("stroke-linejoin", "round")
      .attr("stroke-dasharray", s.dash || null)
  })

  // block switch markers
  if (o.switches) {
    g.selectAll(".sw").data(switchTrials).join("line")
      .attr("x1", d => x(d)).attr("x2", d => x(d))
      .attr("y1", o.top + 2).attr("y2", o.axisY)
      .attr("stroke", GRID).attr("stroke-width", 6).attr("stroke-dasharray", "7,3.5")
  }

  // axes
  const yAxis = d3.axisLeft(y).tickValues(o.yTicks).tickSize(11).tickPadding(o.yPad)
    .tickFormat(v => o.yLabels.some(l => Math.abs(l - v) < 1e-9) ? o.fmt(v) : "")
  const ga = g.append("g").attr("transform", `translate(${o.axisX},0)`).call(yAxis)
  const xAxis = d3.axisBottom(x).tickValues(trialTicks).tickSize(11).tickPadding(5)
    .tickFormat(v => trialLabels.includes(v) ? v : "")
  const gb = g.append("g").attr("transform", `translate(0,${o.axisY})`).call(xAxis)
  ;[ga, gb].forEach(a => {
    a.select(".domain").remove()
    a.selectAll(".tick line").attr("stroke", INK).attr("stroke-width", 5.5)
    a.selectAll(".tick text").attr("fill", INK).style("font-size", FS + "px")
      .style("font-family", '"Liberation Sans", Arial, sans-serif')
  })
  g.append("path")
    .attr("d", `M${o.axisX},${o.top}V${o.axisY}H${o.right}`)
    .attr("fill", "none").attr("stroke", INK).attr("stroke-width", 6)

  // labels
  g.append("text").attr("x", o.trialX).attr("y", o.trialY)
    .attr("text-anchor", "middle").attr("fill", INK).style("font-size", FS + "px").text("Trial")
  o.ylab.forEach(l => {
    g.append("text").attr("transform", `translate(${l.x},${l.y}) rotate(-90)`)
      .attr("text-anchor", "middle").attr("fill", INK).style("font-size", (FS + 1) + "px").text(l.t)
  })
  if (o.title) {
    g.append("text").attr("x", o.title.x).attr("y", o.title.y)
      .attr("text-anchor", "middle").attr("fill", INK).style("font-size", "41px").text(o.title.t)
  }
}

// panel A
panel({
  xr: [216, 827], yd: [-4, 4], yr: [1080, 550.5],
  axisX: 186.6, axisY: 1148, top: 480.6, right: 859, lw: 7,
  yTicks: firingTicks, yLabels: firingLabels, fmt: d => d < 0 ? "\u22124" : "4", yPad: 13,
  switches: true,
  series: [
    { data: impairedModel, color: RED },
    { data: mdRescue, color: SKY },
    { data: fullModel, color: ORANGE }
  ],
  trialX: 517, trialY: 1207,
  ylab: [{ x: 140, y: 807, t: "Firing rate" }],
  title: { x: 511, y: 468, t: "\u0394 between MD populations" }
})

// panel A legend
const legA = [["Full model", ORANGE], ["Impaired model", RED], ["MD activation rescue", SKY]]
legA.forEach((d, i) => {
  const yy = 311 + i * 40.5
  svg.append("line").attr("x1", 219).attr("x2", 275).attr("y1", yy).attr("y2", yy)
    .attr("stroke", d[1]).attr("stroke-width", 6).attr("stroke-linecap", "round")
  svg.append("text").attr("x", 298).attr("y", yy + 10.5).attr("fill", INK)
    .style("font-size", "39px").text(d[0])
})

// panel B1
panel({
  xr: [1060.5, 1657.8], yd: [0.45, 0.65], yr: [726, 215],
  axisX: 1031, axisY: 773, top: 118, right: 1690, lw: 6.5,
  yTicks: impProbTicks, yLabels: impProbLabels, fmt: d3.format(".2f"), yPad: 4,
  series: [
    { data: impC1Right, color: PINK },
    { data: impC1Left, color: PINK, dash: "9,6" },
    { data: impC2Left, color: BLUE, dash: "9,6", op: 0.18 },
    { data: impC2Right, color: BLUE, op: 0.18 }
  ],
  trialX: 1360.5, trialY: 816,
  ylab: [{ x: 931, y: 454, t: "Impaired model" }, { x: 991, y: 442, t: "Estimated Probability" }],
  title: { x: 1380, y: 70, t: "PFC-MD synaptic strength" }
})

// B1 legend
const legB = [["Context 1", PINK], ["Context 2", BLUE]]
legB.forEach((d, i) => {
  const yy = 150 + i * 42.5
  svg.append("line").attr("x1", 1174).attr("x2", 1241).attr("y1", yy).attr("y2", yy)
    .attr("stroke", d[1]).attr("stroke-width", 6).attr("stroke-linecap", "round")
  svg.append("text").attr("x", 1257).attr("y", yy + 16).attr("fill", INK)
    .style("font-size", "39px").text(d[0])
})
const legStyle = [["Right", null], ["Left", "9,4"]]
legStyle.forEach((d, i) => {
  const yy = 150 + i * 42.5
  svg.append("line").attr("x1", 1466).attr("x2", 1527).attr("y1", yy).attr("y2", yy)
    .attr("stroke", "#999").attr("stroke-width", 6)
    .attr("stroke-linecap", d[1] ? "butt" : "round").attr("stroke-dasharray", d[1])
  svg.append("text").attr("x", 1555).attr("y", yy + 16).attr("fill", INK)
    .style("font-size", "39px").text(d[0])
})

// panel B2
panel({
  xr: [1064, 1660.5], yd: [0.4, 0.7], yr: [1524, 943.3],
  axisX: 1037, axisY: 1564.6, top: 908.6, right: 1693, lw: 6.5,
  yTicks: resProbTicks, yLabels: resProbLabels, fmt: d3.format(".2f"), yPad: 5,
  series: [
    { data: resC1Right, color: PINK },
    { data: resC1Left, color: PINK, dash: "9,6" },
    { data: resC2Left, color: BLUE, dash: "9,6", op: 0.18 },
    { data: resC2Right, color: BLUE, op: 0.18 }
  ],
  trialX: 1365, trialY: 1607,
  ylab: [{ x: 931, y: 1233, t: "MD activation rescue" }, { x: 993, y: 1232, t: "Estimated Probability" }]
})

// panel C1
panel({
  xr: [1805.7, 2441.7], yd: [0, 0.7], yr: [741.5, 112.2],
  axisX: 1776, axisY: 772.4, top: 78.6, right: 2475, lw: 7,
  yTicks: impLrTicks, yLabels: impLrLabels, fmt: d3.format(".1f"), yPad: 5,
  switches: true,
  series: [
    { data: impLrC1, color: PINK },
    { data: impLrC2, color: BLUE, op: 0.18 }
  ],
  trialX: 2125.5, trialY: 834,
  ylab: [{ x: 1727, y: 394, t: "Learning rate" }],
  title: { x: 2117, y: 62, t: "PFC-MD plasticity" }
})

// panel C2
panel({
  xr: [1801.7, 2444], yd: [0, 1], yr: [1541.3, 899.6],
  axisX: 1771.4, axisY: 1573.6, top: 870.8, right: 2477, lw: 7,
  yTicks: resLrTicks, yLabels: resLrLabels, fmt: d3.format("d"), yPad: 6,
  switches: true,
  series: [
    { data: resLrC1, color: PINK },
    { data: resLrC2, color: BLUE, op: 0.18 }
  ],
  trialX: 2123, trialY: 1617,
  ylab: [{ x: 1735, y: 1189, t: "Learning rate" }]
})
</script>
</body>
</html>
